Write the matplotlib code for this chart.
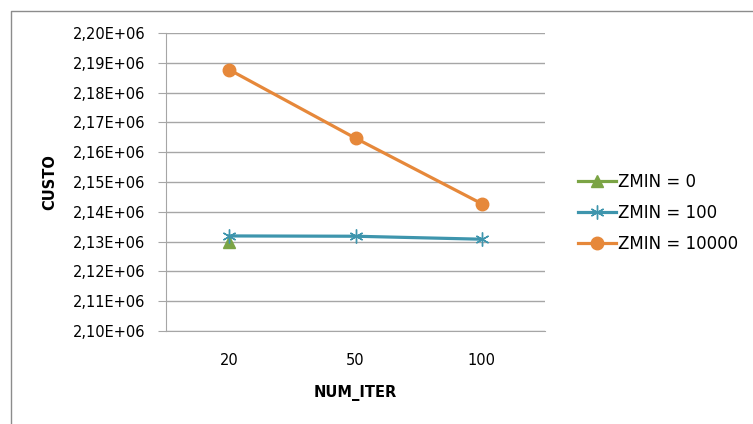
#!/usr/bin/env python3
# -*- coding: utf-8 -*-

import numpy as np
import matplotlib
matplotlib.use("Agg")
import matplotlib.pyplot as plt
from matplotlib.ticker import FuncFormatter, MultipleLocator
from matplotlib.lines import Line2D

# Data
num_iter = ["20", "50", "100"]
zmin_0 = [2.1300e6, np.nan, np.nan]
zmin_100 = [2.1319e6, 2.1318e6, 2.1308e6]
zmin_10000 = [2.1877e6, 2.1647e6, 2.1427e6]

GRID = "#A6A6A6"
FONT = 10.5


def excel_sci(val, pos):
    return ("%.2E" % val).replace(".", ",")


fig = plt.figure(figsize=(7.53, 4.24), dpi=100)
ax = fig.add_axes([166 / 753, 1 - 331 / 424, 379 / 753, 298 / 424])

# outer chart-area border: only top and left edges are inside the picture
bx, by = 10.5 / 753, 1 - 10.5 / 424
fig.add_artist(Line2D([bx, bx, 1.0], [0.0, by, by], color="#8C8C8C",
                      linewidth=1.0, transform=fig.transFigure))

x = np.arange(len(num_iter))
ax.plot(x, zmin_0, color="#7BA445", linewidth=2.3, marker="^",
        markersize=8, label="ZMIN = 0", zorder=3)
ax.plot(x, zmin_100, color="#3E95AD", linewidth=2.3, marker=(6, 2, 0),
        markersize=10, markeredgewidth=1.0, label="ZMIN = 100", zorder=4)
ax.plot(x, zmin_10000, color="#E6883A", linewidth=2.3, marker="o",
        markersize=9, label="ZMIN = 10000", zorder=5)

ax.set_xlim(-0.5, 2.5)
ax.set_ylim(2.10e6, 2.20e6)
ax.yaxis.set_major_locator(MultipleLocator(0.01e6))
ax.yaxis.set_major_formatter(FuncFormatter(excel_sci))
ax.set_xticks(x)
ax.set_xticklabels(num_iter)

ax.grid(axis="y", color=GRID, linewidth=1.0)
ax.set_axisbelow(True)
for side in ["top", "right"]:
    ax.spines[side].set_visible(False)
ax.spines["bottom"].set_color(GRID)
ax.spines["left"].set_color(GRID)

ax.tick_params(axis="y", colors=GRID, length=6, labelsize=FONT,
               labelcolor="black", pad=9)
ax.tick_params(axis="x", length=0, labelsize=FONT, pad=16)

ax.set_ylabel("CUSTO", fontsize=FONT, fontweight="bold", labelpad=11)
ax.set_xlabel("NUM_ITER", fontsize=FONT, fontweight="bold", labelpad=12)

fig.legend(loc="center left", bbox_to_anchor=(563 / 753, 1 - 213 / 424),
           frameon=False, fontsize=12.0, handlelength=2.3,
           handletextpad=0.1, labelspacing=0.78)

fig.savefig("out.png", dpi=100)
